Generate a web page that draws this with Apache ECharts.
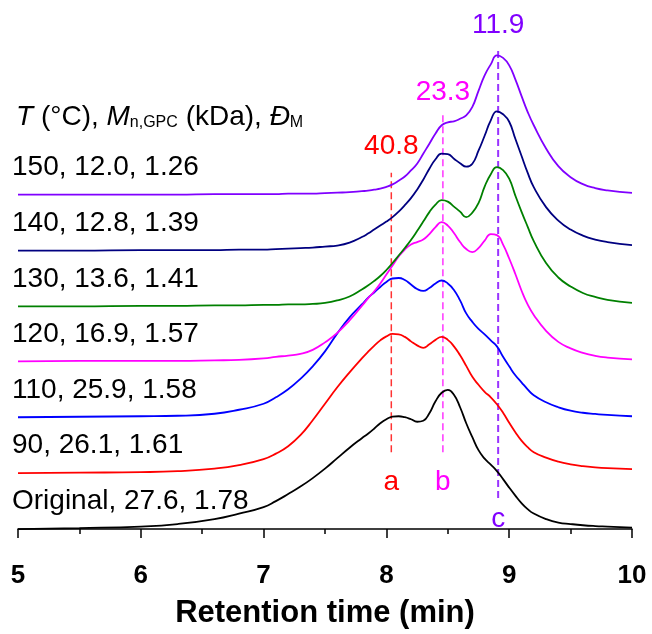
<!DOCTYPE html>
<html><head><meta charset="utf-8">
<script src="https://cdn.jsdelivr.net/npm/echarts@6/dist/echarts.min.js"></script>
<style>html,body{margin:0;padding:0;background:#fff}#c{width:652px;height:634px}</style>
</head><body><div id="c"></div>
<script>
// ---- data ----
const sampleNames = ['Original, 27.6, 1.78', '90, 26.1, 1.61', '110, 25.9, 1.58', '120, 16.9, 1.57', '130, 13.6, 1.41', '140, 12.8, 1.39', '150, 12.0, 1.26'];
const headerText = '{i|T} (°C), {i|M}{sub|n,GPC} (kDa), {i|Đ}{sub|M}';
const traceColors = ['#000000', '#ff0000', '#0000ff', '#ff00ff', '#008000', '#000080', '#8000ff'];
const traceOffsets = [0, 56, 112, 168, 223, 279, 335];

const retentionTime = [5.0, 5.5, 6.0, 6.3, 6.6, 6.8, 7.0, 7.1, 7.2, 7.3, 7.4, 7.5, 7.6, 7.7, 7.8,
  7.85, 7.9, 7.95, 8.0, 8.05, 8.1, 8.15, 8.2, 8.25, 8.3, 8.35, 8.4, 8.45, 8.5, 8.55, 8.6, 8.65, 8.7, 8.75, 8.8, 8.85, 8.9, 8.95, 9.0, 9.05, 9.1, 9.15, 9.2,
  9.3, 9.4, 9.5, 9.6, 9.7, 9.8, 10.0];

const signalOriginal = [0, 1, 2.5, 5, 10, 15.5, 22, 28, 35, 42.5, 51, 60.5, 71, 81.5, 91,
  95.5, 100.5, 106, 110, 112.5, 113, 112, 110, 107.5, 108.5, 116, 128, 136.5, 139.5, 134.5, 122, 106, 92, 79, 70.5, 64.5, 58, 50, 41.5, 33.5, 26, 20, 15.5,
  10, 6.5, 5, 3.8, 3, 2.5, 1.5];
const signal90 = [0, 0.5, 1, 2, 4.5, 8, 14, 19.5, 27, 38, 53, 69.5, 86, 101, 115,
  121.5, 127.5, 133, 137, 139.5, 139, 136.5, 132, 128, 125.5, 129, 133.5, 136.5, 133.5, 127, 118, 107.5, 96.5, 88.5, 81.5, 76, 69, 60.5, 50.5, 41, 32.5, 26, 21,
  15.5, 11.5, 8.8, 7, 5.8, 5, 4];
const signal110 = [0, 0.5, 1, 1.5, 3.5, 7.5, 13.5, 20, 28, 38.5, 51, 66, 84, 100, 113,
  119.5, 125, 130.5, 135.5, 139, 139.5, 137.5, 133, 128.5, 126.5, 129.5, 134, 137, 134, 127.5, 117, 104, 95.5, 88.5, 83, 77, 71, 60.5, 51, 42, 35, 28, 22,
  15, 10, 6.5, 4.5, 3.3, 2.3, 1];
const signal120 = [0, 0.5, 0.5, 0.5, 1, 1.5, 3, 4.5, 5.8, 7.5, 11.5, 19, 28.5, 41, 55.5,
  63, 70, 78, 87, 96, 105, 112, 117, 119.5, 122, 127.5, 134.5, 139.5, 136, 128.5, 119.5, 112.5, 109.5, 113.5, 121, 127.5, 126.5, 117, 103, 87.5, 71, 57, 46.5,
  30.5, 19.5, 13, 8.5, 5.5, 3.8, 2];
const signal130 = [0, 0, 0.5, 0.5, 1, 1, 1.5, 1.5, 2, 2, 2.5, 3.5, 6, 10, 17,
  21, 25.5, 30.5, 36.5, 43.5, 51, 58.5, 66.5, 75.5, 85, 94.5, 102, 106.5, 105, 100, 95, 89.5, 94, 103.5, 120, 132.5, 139.5, 136.5, 128, 111, 95, 80, 65.5,
  43.5, 29, 20, 13.5, 9.5, 6.5, 3.5];
const signal140 = [0, 0, 0.5, 0.5, 0.5, 1, 1, 1.5, 2, 2.5, 3, 4, 5, 8, 13.5,
  17, 21, 25, 29, 33.5, 39, 45.5, 52.5, 61, 71, 82, 91.5, 97, 96.5, 92, 87.5, 84, 87, 100, 115, 130.5, 139.5, 136.5, 129, 112, 95, 78, 63.5,
  43.5, 30, 21, 15, 11, 8.5, 5.5];
const signal150 = [0, 0, 0, 0, 0.5, 0.5, 0.5, 0.5, 1, 1, 1, 1.5, 2, 2.5, 3.5,
  4, 5, 6, 7.8, 10.3, 14, 18.2, 24.3, 31, 41, 51, 61.3, 69.5, 72.5, 73.5, 76, 79.5, 88, 104, 119.5, 130.5, 139.5, 137, 129.5, 115.5, 99, 83, 69.5,
  46.3, 28.5, 17.5, 10.5, 6.5, 4.3, 1.7];
const signals = [signalOriginal, signal90, signal110, signal120, signal130, signal140, signal150];

const peakX = [8.04, 8.46, 8.91];
const peakMn = ['40.8', '23.3', '11.9'];
const peakLetters = ['a', 'b', 'c'];
const peakColors = ['#ff0000', '#ff00ff', '#8000ff'];
const peakLineLow = [77, 77, 31];
const peakLineHigh = [357, 415, 483];
const peakMnY = [383, 438, 505];
const peakLetterY = [47, 47, 10];
const labelRise = 27.5;
const headerY = 413;

// ---- chart ----
const FONT = '"Liberation Sans", Arial, sans-serif';
const chart = echarts.init(document.getElementById('c'), null, {renderer: 'canvas'});
const series = [];
signals.forEach((s, i) => {
  series.push({
    type: 'line', data: retentionTime.map((x, k) => [x, s[k] + traceOffsets[i]]),
    smooth: 0.5, showSymbol: false, symbol: 'none',
    lineStyle: {color: traceColors[i], width: 1.8}, silent: true, z: 3
  });
});
peakX.forEach((x, i) => {
  series.push({
    type: 'line', data: [[x, peakLineLow[i]], [x, peakLineHigh[i]]], showSymbol: false, symbol: 'none',
    lineStyle: {color: peakColors[i], width: i === 2 ? 2 : 1.5, type: [7, 4], opacity: 0.8}, silent: true, z: 2
  });
});
// annotation texts
series.push({
  type: 'scatter', symbolSize: 0, silent: true, z: 5, itemStyle: {opacity: 1},
  data: peakX.map((x, i) => ({value: [x, peakMnY[i]], name: peakMn[i],
    label: {show: true, position: 'inside', formatter: peakMn[i], color: peakColors[i], opacity: 1, fontSize: 28, fontFamily: FONT}}))
    .concat(peakX.map((x, i) => ({value: [x, peakLetterY[i]], name: peakLetters[i],
    label: {show: true, position: 'inside', formatter: peakLetters[i], color: peakColors[i], opacity: 1, fontSize: 28, fontFamily: FONT}})))
});
series.push({
  type: 'scatter', symbolSize: 0, silent: true, z: 5, itemStyle: {opacity: 1},
  data: sampleNames.map((n, i) => ({value: [5, traceOffsets[i] + labelRise], name: n,
    label: {show: true, position: 'inside', align: 'left', offset: [-6, 0], formatter: n, color: '#000', opacity: 1, fontSize: 28, fontFamily: FONT}}))
    .concat([{value: [5, headerY], name: 'header', label: {show: true, position: 'inside', align: 'left', offset: [-2, 0],
      formatter: headerText, color: '#000', opacity: 1, fontSize: 28, fontFamily: FONT,
      rich: {i: {fontStyle: 'italic', fontSize: 28, fontFamily: FONT, color: '#000'},
             sub: {fontSize: 16, fontFamily: FONT, color: '#000', padding: [12, 0, 0, 0]}}}}])
});

chart.setOption({
  animation: false,
  backgroundColor: '#fff',
  grid: {left: 18, right: 20, top: 0, bottom: 88, containLabel: false},
  xAxis: {
    type: 'value', min: 5, max: 10, interval: 1,
    axisLine: {show: true, lineStyle: {color: '#000', width: 1.5}},
    axisTick: {show: true, inside: false, length: 9, lineStyle: {color: '#000', width: 1.5}},
    minorTick: {show: true, splitNumber: 2, length: 5, lineStyle: {color: '#000', width: 1.5}},
    splitLine: {show: false},
    axisLabel: {color: '#000', fontSize: 26, fontWeight: 'bold', fontFamily: FONT, margin: 18},
    name: 'Retention time (min)', nameLocation: 'middle', nameGap: 53,
    nameTextStyle: {color: '#000', fontSize: 31, fontWeight: 'bold', fontFamily: FONT}
  },
  yAxis: {type: 'value', min: -16, max: 530, show: false, splitLine: {show: false}},
  series: series
});
</script></body></html>
